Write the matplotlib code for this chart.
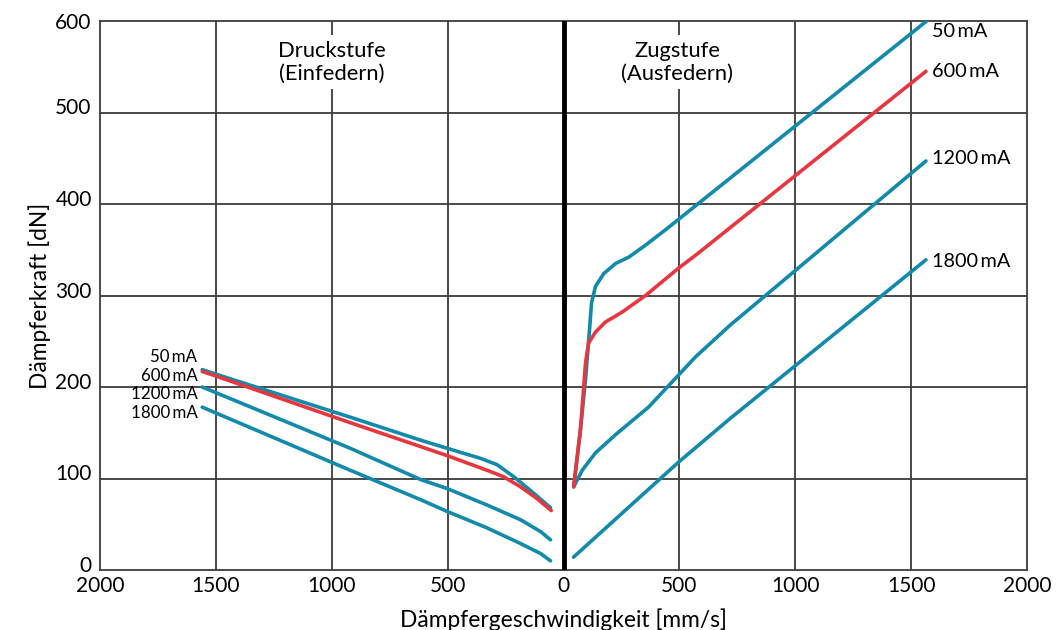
import matplotlib
matplotlib.use("Agg")
import matplotlib.pyplot as plt
import matplotlib.transforms as mtransforms

plt.rcParams['font.family'] = ['Lato', 'DejaVu Sans']

# ---- data (x: signed velocity mm/s, negative = Druckstufe; y: force dN) ----
left_50_x = [-1559, -1500, -920, -618, -502, -358, -286, -215, -143, -56]
left_50_y = [219, 214, 167, 142, 133, 122, 115, 102, 87, 68]
left_600_x = [-1559, -1500, -920, -618, -502, -330, -259, -186, -114, -53]
left_600_y = [217, 212, 161, 135, 125, 109, 102, 91, 78, 65]
left_1200_x = [-1559, -920, -618, -502, -330, -186, -99, -56]
left_1200_y = [200, 133, 99, 89, 71, 55, 42, 33]
left_1800_x = [-1559, -920, -618, -502, -330, -186, -99, -56]
left_1800_y = [178, 109, 77, 64, 46, 29, 18, 10]

right_50_x = [44, 73, 95, 112, 121, 138, 174, 225, 282, 354, 441, 1577]
right_50_y = [91, 153, 208, 262, 292, 310, 324, 335, 342, 355, 372, 602]
right_600_x = [44, 73, 95, 108, 138, 181, 254, 298, 354, 497, 570, 1564]
right_600_y = [91, 153, 226, 248, 260, 271, 282, 290, 300, 330, 344, 545]
right_1200_x = [44, 81, 138, 225, 367, 570, 721, 1564]
right_1200_y = [91, 109, 128, 148, 178, 233, 268, 447]
right_1800_x = [43, 497, 721, 1564]
right_1800_y = [14, 118, 166, 339]

series_labels = ["50\u2009mA", "600\u2009mA", "1200\u2009mA", "1800\u2009mA"]
right_label_y = [588, 545, 450, 337]
left_label_y = [233, 212, 192, 172]

xticks = [-2000, -1500, -1000, -500, 0, 500, 1000, 1500, 2000]
xticklabels = ["2000", "1500", "1000", "500", "0", "500", "1000", "1500", "2000"]
yticks = [0, 100, 200, 300, 400, 500, 600]

BLUE = "#118aab"
RED = "#e8363f"
GRID = "#3c3c3c"

fig = plt.figure(figsize=(10.63, 6.30), dpi=100)
ax = fig.add_axes([100/1063, 1-570/630, 927/1063, 549/630])
ax.set_xlim(-2000, 2000)
ax.set_ylim(0, 600)

for v in xticks[1:-1]:
    if v == 0:
        continue
    ax.axvline(v, color=GRID, lw=1.3, zorder=1)
for v in yticks[1:-1]:
    ax.axhline(v, color=GRID, lw=1.3, zorder=1)
ax.axvline(0, color="black", lw=3.5, zorder=5)

lw = 2.6
blues = [(left_50_x, left_50_y), (left_1200_x, left_1200_y), (left_1800_x, left_1800_y),
         (right_50_x, right_50_y), (right_1200_x, right_1200_y), (right_1800_x, right_1800_y)]
for xs, ys in blues:
    ax.plot(xs, ys, color=BLUE, lw=lw, solid_capstyle='round', solid_joinstyle='round', zorder=3)
for xs, ys in [(left_600_x, left_600_y), (right_600_x, right_600_y)]:
    ax.plot(xs, ys, color=RED, lw=lw, solid_capstyle='round', solid_joinstyle='round', zorder=4)

for lab, yv in zip(series_labels, right_label_y):
    ax.text(1590, yv, lab, fontsize=14.3, ha='left', va='center', zorder=6)
for lab, yv in zip(series_labels, left_label_y):
    ax.text(-1580, yv, lab, fontsize=12.2, ha='right', va='center', zorder=6)

bbox = dict(facecolor='white', edgecolor='none', pad=4)
ax.text(-1000, 555, "Druckstufe\n(Einfedern)", fontsize=15.8, ha='center', va='center',
        linespacing=1.15, bbox=bbox, zorder=6)
ax.text(490, 555, "Zugstufe\n(Ausfedern)", fontsize=15.8, ha='center', va='center',
        linespacing=1.15, bbox=bbox, zorder=6)

ax.set_xticks(xticks)
ax.set_xticklabels(xticklabels, fontsize=15)
ax.set_yticks(yticks)
ax.set_yticklabels([str(v) for v in yticks], fontsize=15)
ax.tick_params(length=0, pad=6)
ax.tick_params(axis='x', pad=4)
for lbl, v in zip(ax.get_yticklabels(), yticks):
    if v != 600:
        lbl.set_transform(lbl.get_transform() + mtransforms.ScaledTranslation(0, 6/100, fig.dpi_scale_trans))

for s in ax.spines.values():
    s.set_color(GRID)
    s.set_linewidth(1.3)

ax.set_xlabel("Dämpfergeschwindigkeit [mm/s]", fontsize=16.4, labelpad=9)
ax.set_ylabel("Dämpferkraft [dN]", fontsize=16.4, labelpad=3)

fig.savefig("out.png", dpi=100)
